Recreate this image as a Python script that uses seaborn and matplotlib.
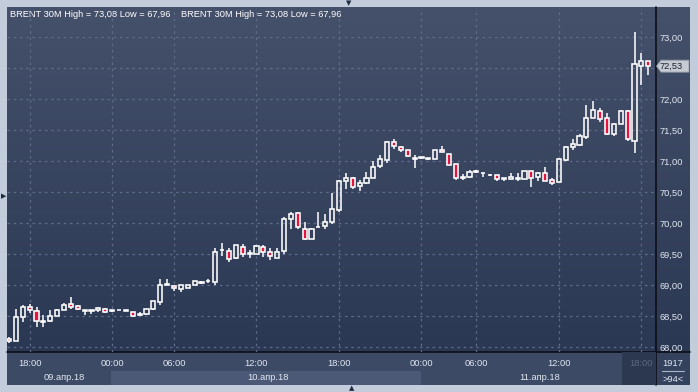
import numpy as np
import pandas as pd
import matplotlib
matplotlib.use("Agg")
import matplotlib.pyplot as plt
import seaborn as sns
from matplotlib.colors import LinearSegmentedColormap
from matplotlib.patches import Rectangle, Polygon

# ---------------- data ----------------
opens = [68.13, 68.09, 68.49, 68.65, 68.58, 68.41, 68.42, 68.50, 68.59, 68.69,
         68.66, 68.58, 68.58, 68.59, 68.62, 68.58, 68.59, 68.58, 68.56, 68.51,
         68.53, 68.61, 68.72, 69.00, 68.99, 68.94, 68.96, 69.00, 69.04, 69.06,
         69.05, 69.56, 69.55, 69.44, 69.62, 69.50, 69.50, 69.62, 69.54, 69.44,
         69.55, 70.06, 70.16, 69.91, 69.75, 69.93, 69.95, 70.02, 70.21, 70.68,
         70.73, 70.60, 70.65, 70.73, 70.92, 71.02, 71.30, 71.22, 71.17, 71.03,
         71.05, 71.03, 71.04, 71.17, 71.12, 70.96, 70.72, 70.74, 70.82, 70.80,
         70.77, 70.77, 70.71, 70.71, 70.71, 70.71, 70.84, 70.75, 70.81, 70.70,
         70.66, 71.02, 71.22, 71.26, 71.39, 71.69, 71.81, 71.70, 71.43, 71.59,
         71.81, 71.33, 72.54, 72.61]
highs = [68.16, 68.61, 68.68, 68.70, 68.64, 68.52, 68.59, 68.62, 68.71, 68.81,
         68.67, 68.59, 68.59, 68.65, 68.63, 68.60, 68.59, 68.58, 68.57, 68.56,
         68.62, 68.75, 69.10, 69.10, 69.00, 69.00, 69.00, 69.07, 69.07, 69.09,
         69.59, 69.67, 69.59, 69.65, 69.66, 69.56, 69.64, 69.64, 69.59, 69.59,
         70.09, 70.18, 70.18, 70.02, 69.92, 70.18, 70.14, 70.48, 70.70, 70.80,
         70.74, 70.69, 70.83, 71.00, 71.10, 71.32, 71.35, 71.25, 71.18, 71.09,
         71.05, 71.03, 71.17, 71.24, 71.12, 70.96, 70.79, 70.85, 70.85, 70.80,
         70.79, 70.77, 70.71, 70.80, 70.80, 70.84, 70.84, 70.83, 70.90, 70.72,
         71.05, 71.24, 71.35, 71.43, 71.90, 71.97, 71.86, 71.77, 71.61, 71.82,
         71.82, 73.08, 72.74, 72.61]
lows = [68.06, 68.09, 68.41, 68.55, 68.32, 68.33, 68.40, 68.50, 68.59, 68.61,
        68.60, 68.51, 68.53, 68.57, 68.55, 68.56, 68.59, 68.58, 68.48, 68.50,
        68.52, 68.60, 68.67, 69.00, 68.91, 68.88, 68.96, 69.00, 69.02, 69.03,
        69.00, 69.47, 69.37, 69.42, 69.46, 69.44, 69.50, 69.46, 69.41, 69.43,
        69.50, 69.91, 69.91, 69.73, 69.74, 69.93, 69.90, 69.99, 70.18, 70.55,
        70.55, 70.52, 70.63, 70.72, 70.88, 70.97, 71.19, 71.14, 71.06, 70.89,
        71.03, 71.01, 71.04, 71.14, 70.93, 70.70, 70.69, 70.72, 70.81, 70.75,
        70.76, 70.67, 70.67, 70.71, 70.67, 70.71, 70.58, 70.68, 70.67, 70.61,
        70.66, 71.00, 71.18, 71.25, 71.36, 71.69, 71.63, 71.42, 71.40, 71.59,
        71.33, 71.13, 72.22, 72.38]
closes = [68.09, 68.48, 68.64, 68.59, 68.42, 68.42, 68.50, 68.59, 68.68, 68.64,
          68.62, 68.59, 68.59, 68.63, 68.56, 68.58, 68.59, 68.58, 68.50, 68.54,
          68.62, 68.75, 69.00, 69.00, 68.96, 69.00, 69.00, 69.06, 69.04, 69.06,
          69.54, 69.56, 69.42, 69.65, 69.50, 69.50, 69.63, 69.53, 69.47, 69.54,
          70.06, 70.15, 69.93, 69.74, 69.90, 69.93, 70.02, 70.22, 70.68, 70.72,
          70.58, 70.65, 70.72, 70.91, 71.04, 71.30, 71.24, 71.17, 71.08, 71.03,
          71.05, 71.03, 71.17, 71.14, 70.93, 70.72, 70.75, 70.83, 70.83, 70.80,
          70.77, 70.71, 70.71, 70.75, 70.71, 70.84, 70.73, 70.80, 70.68, 70.64,
          71.03, 71.22, 71.27, 71.41, 71.69, 71.82, 71.68, 71.44, 71.59, 71.81,
          71.35, 72.56, 72.61, 72.53]

time_ticks = [3, 15, 24, 36, 48, 60, 68, 80, 92]
time_labels = ["18:00", "00:00", "06:00", "12:00", "18:00", "00:00", "06:00", "12:00", "18:00"]
date_pos = [8.1, 37.7, 77.2]
date_labels = ["09.апр.18", "10.апр.18", "11.апр.18"]
price_ticks = [68.0, 68.5, 69.0, 69.5, 70.0, 70.5, 71.0, 71.5, 72.0, 72.5, 73.0]
header = "BRENT 30M High = 73,08 Low = 67,96"
last_price = 72.53
count_label = "1917"
visible_label = ">94<"

# ---------------- style ----------------
sns.set_theme(style="dark")
plt.rcParams['font.family'] = ['Liberation Sans', 'DejaVu Sans']

df = pd.DataFrame({"o": opens, "h": highs, "l": lows, "c": closes})
df["x"] = np.arange(len(df))
df["up"] = df["c"] >= df["o"]
df["top"] = df[["o", "c"]].max(axis=1)
df["bot"] = df[["o", "c"]].min(axis=1)

W, H = 698, 392
L, R, T, B = 7.5, 655.5, 7.5, 352.0
TXT = '#e1e7f0'
FS = 6.7

fig = plt.figure(figsize=(W / 100, H / 100), dpi=100, facecolor='#c2ccda')
bg = fig.add_axes([0, 0, 1, 1])
bg.set_xlim(0, W)
bg.set_ylim(H, 0)
bg.axis('off')

cmap = LinearSegmentedColormap.from_list('bgc', ['#45516b', '#2b3853'])
bg.imshow(np.linspace(0, 1, 256).reshape(-1, 1), cmap=cmap, aspect='auto',
          extent=[7, 690, 352, 7], zorder=0)
# bottom panel
bg.add_patch(Rectangle((7, 352), 683, 33, facecolor='#3c4a66', edgecolor='none', zorder=1))
bg.add_patch(Rectangle((656, 352), 34, 33, facecolor='#34425e', edgecolor='none', zorder=1))
bg.plot([656, 656], [7, 385], color='#0c0f16', lw=1.2, zorder=3)
bg.plot([7, 690], [352, 352], color='#0c0f16', lw=1.2, zorder=3)

# header
bg.text(10, 14, header, color='white', fontsize=FS, va='center', zorder=4)
bg.text(181, 14, header, color='white', fontsize=FS, va='center', zorder=4)

# corner box
bg.text(673, 364, count_label, color=TXT, fontsize=FS, ha='center', va='center', zorder=4)
bg.plot([662, 684], [371, 371], color='#aab4c6', lw=0.8, zorder=4)
bg.text(673, 379, visible_label, color=TXT, fontsize=FS, ha='center', va='center', zorder=4)

# splitter arrows
bg.text(352, 388.5, '▲', color='#1e2a40', fontsize=5, ha='center', va='center',
        family='DejaVu Sans', zorder=4)
bg.text(349, 3.5, '▼', color='#1e2a40', fontsize=5, ha='center', va='center',
        family='DejaVu Sans', zorder=4)
bg.text(3.5, 196, '▶', color='#1e2a40', fontsize=5, ha='center', va='center',
        family='DejaVu Sans', zorder=4)

# ---------------- main axes ----------------
ax = fig.add_axes([L / W, 1 - B / H, (R - L) / W, (B - T) / H])
ax.patch.set_alpha(0)
ax.set_xlim(-0.22, 94.05)
ax.set_ylim(67.92, 73.476)
for s in ax.spines.values():
    s.set_visible(False)

ax.grid(True, color='#5e6c89', linestyle=(0, (2, 3)), linewidth=0.9)
ax.set_axisbelow(True)

# wicks
ax.vlines(df["x"], df["top"], df["h"], color='white', lw=1.1, zorder=3)
ax.vlines(df["x"], df["l"], df["bot"], color='white', lw=1.1, zorder=3)
# bodies
heights = np.maximum(df["top"] - df["bot"], 0.012)
faces = ['none' if u else '#e3143f' for u in df["up"]]
ax.bar(df["x"], heights, bottom=df["bot"], width=0.6, color=faces,
       edgecolor='white', linewidth=1.15, zorder=4)

# axes ticks
ax.set_xticks(time_ticks)
ax.set_xticklabels(time_labels)
ax.tick_params(axis='x', length=0, pad=5.2, labelsize=FS, colors=TXT)
ax.get_xticklabels()[-1].set_color('#5d6882')
ax.yaxis.tick_right()
ax.set_yticks(price_ticks)
ax.set_yticklabels([f"{v:.2f}".replace('.', ',') for v in price_ticks])
ax.tick_params(axis='y', length=0, pad=3.0, labelsize=FS, colors=TXT)
for v, lab in zip(price_ticks, ax.get_yticklabels()):
    if abs(v - last_price) < 0.12:
        lab.set_visible(False)
ax.set_xlabel('')
ax.set_ylabel('')

# bottom bands (data x, axes y)
xt = ax.get_xaxis_transform()
hpx = B - T
ax.add_patch(Rectangle((14.85, -(385 - B) / hpx), 59.95 - 14.85, (385 - 371) / hpx,
                       transform=xt, facecolor='#4b5976', edgecolor='none',
                       clip_on=False, zorder=0))
ax.add_patch(Rectangle((89.2, -(385 - B) / hpx), 94.05 - 89.2, (385 - B) / hpx,
                       transform=xt, facecolor='#2c3850', edgecolor='none',
                       clip_on=False, zorder=0))
for p, lab in zip(date_pos, date_labels):
    ax.text(p, -(377 - B) / hpx, lab, transform=xt, color=TXT, fontsize=FS,
            ha='center', va='center', clip_on=False)

# last price marker
fig.canvas.draw()
_, ydisp = ax.transData.transform((0, last_price))
_, ypx = bg.transData.inverted().transform((0, ydisp))
bg.add_patch(Polygon([(656.5, ypx), (661, ypx - 6), (689, ypx - 6), (689, ypx + 6), (661, ypx + 6)],
                     closed=True, facecolor='#c6cad2', edgecolor='#8e95a3', lw=0.6, zorder=5))
bg.text(660, ypx, f"{last_price:.2f}".replace('.', ','), color='#1a2233', fontsize=FS,
        va='center', ha='left', zorder=6)

fig.savefig('out.png', dpi=100, facecolor=fig.get_facecolor())
